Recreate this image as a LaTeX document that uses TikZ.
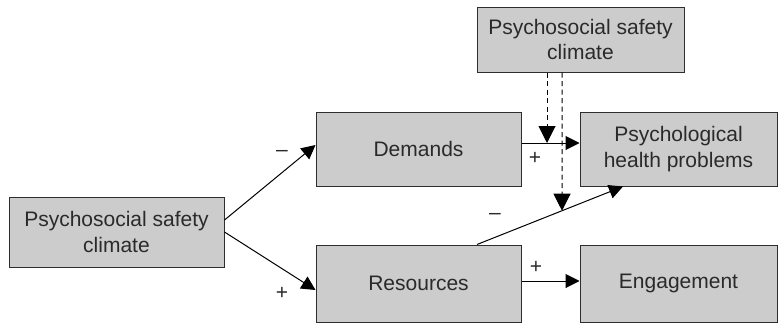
\documentclass[tikz,border=0pt]{standalone}
\usepackage{fontspec}
\setmainfont{Liberation Sans}
\usetikzlibrary{arrows.meta}

\definecolor{boxfill}{HTML}{CCCCCC}
\definecolor{boxline}{HTML}{2E2E2E}
\definecolor{txt}{HTML}{2A2A2A}

\begin{document}
\begin{tikzpicture}[x=1pt,y=-1pt,
box/.style={draw=boxline,fill=boxfill,line width=1pt,text=txt,align=center,
  font=\fontsize{21}{25.5}\selectfont,inner sep=0pt},
link/.style={line width=1pt,-{Triangle[length=14pt,width=14pt]}},
moderate/.style={line width=1pt,dash pattern=on 5pt off 3.5pt,-{Triangle[length=17pt,width=17pt]}},
sign/.style={text=txt,font=\fontsize{21}{25}\selectfont,inner sep=0pt}
]
\useasboundingbox (0,0) rectangle (778,324);

% The boxes
\node[box,minimum width=215pt,minimum height=70pt] (psc) at (116.5,232) {Psychosocial safety\\climate};
\node[box,minimum width=205pt,minimum height=74pt] (dem) at (418.5,149) {Demands};
\node[box,minimum width=205pt,minimum height=77pt] (res) at (418.5,283.5) {Resources};
\node[box,minimum width=197pt,minimum height=74pt] (php) at (678.5,149) {Psychological\\health problems};
\node[box,minimum width=197pt,minimum height=77pt] (eng) at (678.5,283.5) {Engagement};
\node[box,minimum width=207pt,minimum height=65pt] (top) at (580.5,39.5) {Psychosocial safety\\climate};

% The paths
\draw[link] ([yshift=12pt]psc.east) -- ([yshift=4pt]dem.west);
\draw[link] (psc.east) -- ([yshift=-6.5pt]res.west);
\draw[link] ([yshift=6pt]dem.east) coordinate (d1) -- ([yshift=6pt]php.west) coordinate (d2);
\draw[link] ([yshift=2.5pt]res.east) -- ([yshift=2.5pt]eng.west);
\draw[link] ([xshift=58.5pt]res.north) coordinate (r1) -- ([xshift=-55.5pt]php.south) coordinate (r2);

% The moderation
\coordinate (m1) at ([xshift=-33.5pt]top.south);
\coordinate (m2) at ([xshift=-18.5pt]top.south);
\coordinate (m2b) at ([yshift=-200pt]m2);
\draw[moderate] (m1) -- (m1 |- d1);
\draw[moderate] (m2) -- (intersection of m2--m2b and r1--r2);

% The labels
\node[sign] at (282,153) {–};
\node[sign] at (282,293) {+};
\node[sign] at (535,158) {+};
\node[sign] at (495,216) {–};
\node[sign] at (536,267) {+};
\end{tikzpicture}
\end{document}
